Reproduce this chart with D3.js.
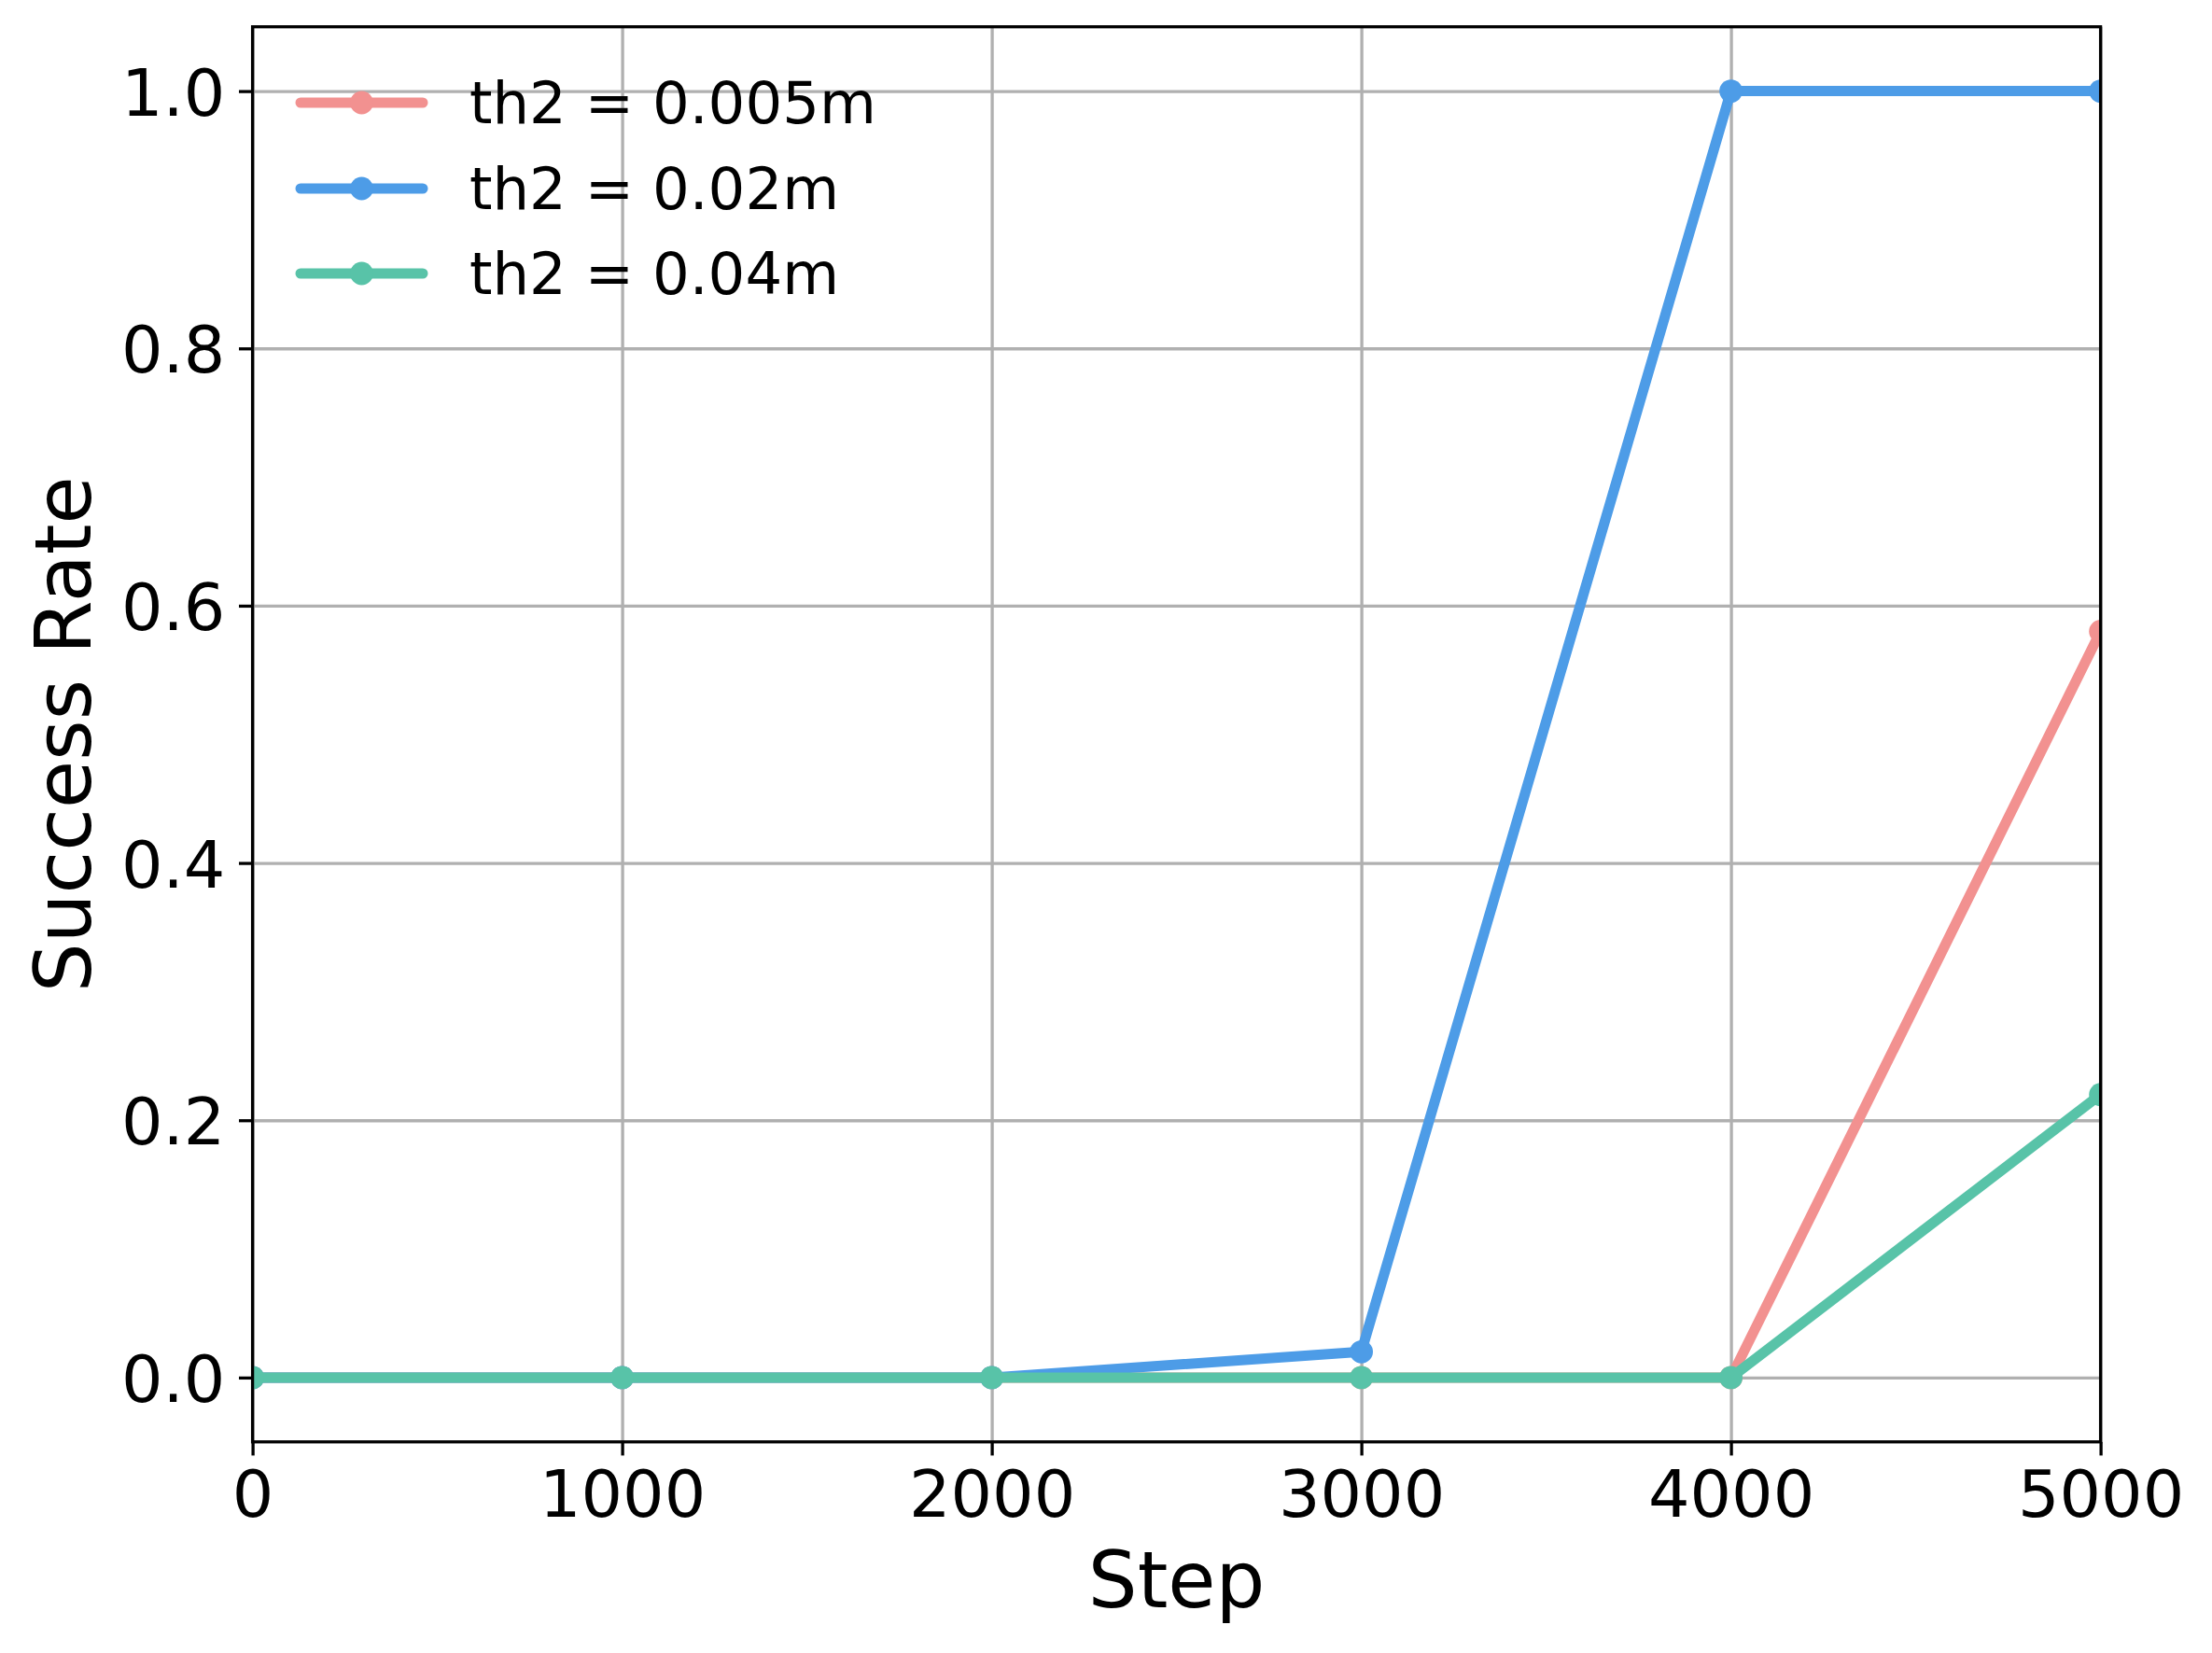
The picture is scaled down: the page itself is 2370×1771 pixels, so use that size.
<!DOCTYPE html>
<html>
<head>
<meta charset="utf-8">
<script src="https://d3js.org/d3.v7.min.js"></script>
<style>
    body { margin: 0; background: #fff; }
    svg { font-family: "DejaVu Sans", sans-serif; }
</style>
</head>
<body>
<script>
    // data
    const steps = [0, 1000, 2000, 3000, 4000, 5000]
    const seriesNames = ['th2 = 0.005m', 'th2 = 0.02m', 'th2 = 0.04m']
    const th005 = [0, 0, 0, 0, 0, 0.58]
    const th02 = [0, 0, 0, 0.02, 1.0, 1.0]
    const th04 = [0, 0, 0, 0, 0, 0.22]
    const colors = ['#f29190', '#4d9ce7', '#58c3a8']
    const xTicks = [0, 1000, 2000, 3000, 4000, 5000]
    const yTicks = [0, 0.2, 0.4, 0.6, 0.8, 1.0]

    const width = 2370
    const height = 1771
    const plotL = 270.6, plotR = 2250.6, plotT = 28.7, plotB = 1544.8
    const tickFont = 70
    const labelFont = 83.3
    const legendFont = 62.5
    const lineW = 11
    const markR = 12.4

    const svg = d3.select('body').append('svg').attr('width', width).attr('height', height)

    const x = d3.scaleLinear().domain([0, 5000]).range([plotL, plotR])
    const y = d3.scaleLinear().domain([-0.05, 1.05]).range([plotB, plotT])

    // grid
    svg.append('g')
        .attr('transform', 'translate(0,' + plotB + ')')
        .call(d3.axisBottom(x).tickValues(xTicks).tickSize(-(plotB - plotT)).tickFormat(''))
        .call(g => g.select('.domain').remove())
        .selectAll('line').attr('stroke', '#b0b0b0').attr('stroke-width', 3.3)
    svg.append('g')
        .attr('transform', 'translate(' + plotL + ',0)')
        .call(d3.axisLeft(y).tickValues(yTicks).tickSize(-(plotR - plotL)).tickFormat(''))
        .call(g => g.select('.domain').remove())
        .selectAll('line').attr('stroke', '#b0b0b0').attr('stroke-width', 3.3)

    // lines
    svg.append('clipPath').attr('id', 'plot')
        .append('rect').attr('x', plotL).attr('y', plotT).attr('width', plotR - plotL).attr('height', plotB - plotT)

    const series = [th005, th02, th04]
    const line = d3.line().x((d, i) => x(steps[i])).y(d => y(d))
    const plot = svg.append('g').attr('clip-path', 'url(#plot)')
    series.forEach((vals, k) => {
        plot.append('path')
            .attr('d', line(vals))
            .attr('fill', 'none')
            .attr('stroke', colors[k])
            .attr('stroke-width', lineW)
            .attr('stroke-linejoin', 'round')
            .attr('stroke-linecap', 'round')
        plot.selectAll(null).data(vals).enter().append('circle')
            .attr('cx', (d, i) => x(steps[i]))
            .attr('cy', d => y(d))
            .attr('r', markR)
            .attr('fill', colors[k])
    })

    // spines
    svg.append('rect')
        .attr('x', plotL).attr('y', plotT).attr('width', plotR - plotL).attr('height', plotB - plotT)
        .attr('fill', 'none').attr('stroke', '#000').attr('stroke-width', 3.3)

    // axes
    const xAxis = svg.append('g')
        .attr('transform', 'translate(0,' + plotB + ')')
        .call(d3.axisBottom(x).tickValues(xTicks).tickSize(14.6).tickPadding(16).tickFormat(d3.format('d')))
    xAxis.select('.domain').remove()
    xAxis.selectAll('line').attr('stroke', '#000').attr('stroke-width', 3.3)
    xAxis.selectAll('text').attr('font-size', tickFont).attr('fill', '#000').attr('font-family', '"DejaVu Sans", sans-serif')

    const yAxis = svg.append('g')
        .attr('transform', 'translate(' + plotL + ',0)')
        .call(d3.axisLeft(y).tickValues(yTicks).tickSize(14.6).tickPadding(14.6).tickFormat(d3.format('.1f')))
    yAxis.select('.domain').remove()
    yAxis.selectAll('line').attr('stroke', '#000').attr('stroke-width', 3.3)
    yAxis.selectAll('text').attr('font-size', tickFont).attr('fill', '#000').attr('dy', '0.365em')
        .attr('font-family', '"DejaVu Sans", sans-serif')

    // axis titles
    svg.append('text')
        .attr('x', (plotL + plotR) / 2).attr('y', 1722)
        .attr('text-anchor', 'middle').attr('font-size', labelFont)
        .text('Step')
    svg.append('text')
        .attr('transform', 'translate(97,' + (plotT + plotB) / 2 + ') rotate(-90)')
        .attr('text-anchor', 'middle').attr('font-size', labelFont)
        .text('Success Rate')

    // legend
    const rowsY = [110, 202, 293]
    const legend = svg.append('g')
    seriesNames.forEach((name, k) => {
        legend.append('line')
            .attr('x1', 322).attr('x2', 453).attr('y1', rowsY[k]).attr('y2', rowsY[k])
            .attr('stroke', colors[k]).attr('stroke-width', lineW).attr('stroke-linecap', 'round')
        legend.append('circle').attr('cx', 387.5).attr('cy', rowsY[k]).attr('r', markR).attr('fill', colors[k])
        legend.append('text')
            .attr('x', 503).attr('y', rowsY[k] + 22)
            .attr('font-size', legendFont)
            .text(name)
    })
</script>
</body>
</html>
